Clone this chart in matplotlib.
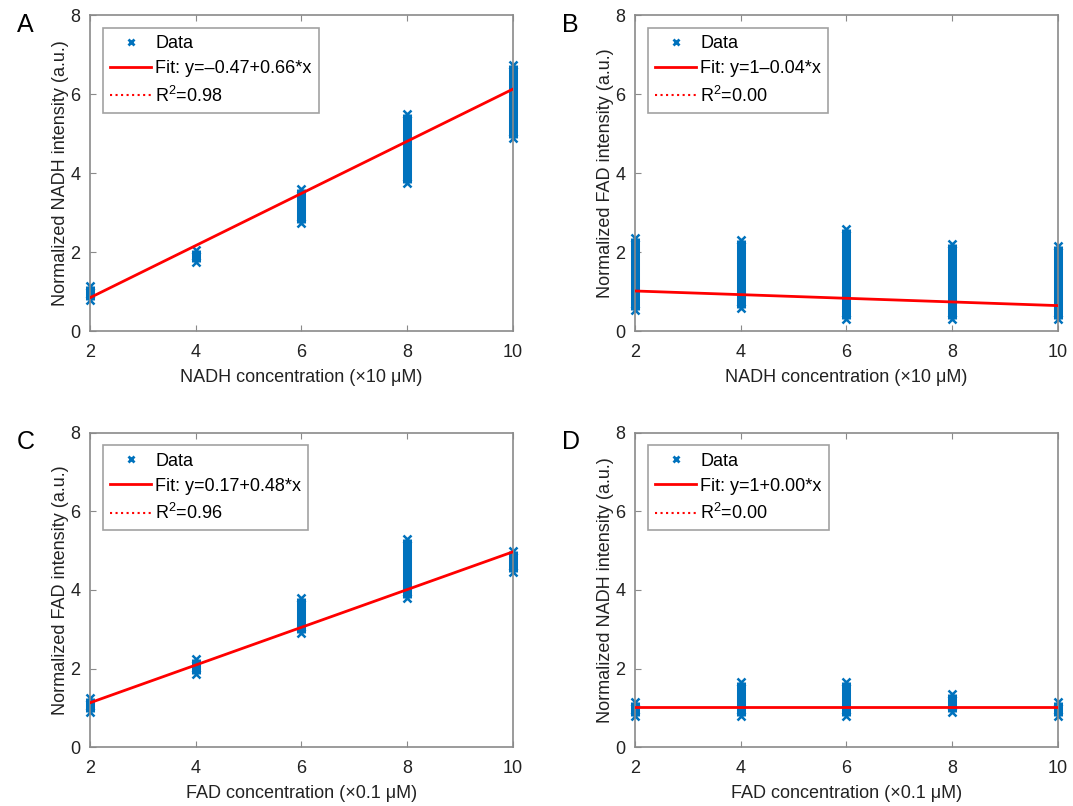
import matplotlib.pyplot as plt
from matplotlib.lines import Line2D

# concentrations on the x axis
conc = [2, 4, 6, 8, 10]

# vertical extent of each stack of data points (min, max)
a_lo = [0.80, 1.75, 2.75, 3.75, 4.90]
a_hi = [1.15, 2.05, 3.60, 5.50, 6.75]
b_lo = [0.55, 0.60, 0.30, 0.30, 0.30]
b_hi = [2.35, 2.30, 2.60, 2.20, 2.15]
c_lo = [0.90, 1.85, 2.90, 3.80, 4.45]
c_hi = [1.25, 2.25, 3.80, 5.30, 5.00]
d_lo = [0.80, 0.80, 0.80, 0.90, 0.80]
d_hi = [1.15, 1.65, 1.65, 1.35, 1.15]

# fitted line value at x=2 and x=10
a_fit = [0.85, 6.13]
b_fit = [1.02, 0.65]
c_fit = [1.13, 4.97]
d_fit = [1.03, 1.03]

fit_labels = ["Fit: y=\u20130.47+0.66*x", "Fit: y=1\u20130.04*x",
              "Fit: y=0.17+0.48*x", "Fit: y=1+0.00*x"]
r2_labels = ["R$^2$=0.98", "R$^2$=0.00", "R$^2$=0.96", "R$^2$=0.00"]
xlabels = ["NADH concentration (\u00d710 \u03bcM)", "NADH concentration (\u00d710 \u03bcM)",
           "FAD concentration (\u00d70.1 \u03bcM)", "FAD concentration (\u00d70.1 \u03bcM)"]
ylabels = ["Normalized NADH intensity (a.u.)", "Normalized FAD intensity (a.u.)",
           "Normalized FAD intensity (a.u.)", "Normalized NADH intensity (a.u.)"]
letters = ["A", "B", "C", "D"]

BLUE = "#0072BD"
RED = "#FF0000"
SPINE = "#8a8a8a"

plt.rcParams["font.family"] = ["Liberation Sans", "DejaVu Sans"]
plt.rcParams["mathtext.fontset"] = "custom"
plt.rcParams["mathtext.rm"] = "Liberation Sans"

fig = plt.figure(figsize=(10.73, 8.06), dpi=100)
rects = [
    (0.0839, 0.589, 0.394, 0.392),
    (0.5918, 0.589, 0.394, 0.392),
    (0.0839, 0.073, 0.394, 0.390),
    (0.5918, 0.073, 0.394, 0.390),
]
lows = [a_lo, b_lo, c_lo, d_lo]
highs = [a_hi, b_hi, c_hi, d_hi]
fits = [a_fit, b_fit, c_fit, d_fit]

for i, rect in enumerate(rects):
    ax = fig.add_axes(rect)
    ax.vlines(conc, lows[i], highs[i], color=BLUE, linewidth=6.5, zorder=2,
              clip_on=False)
    ax.plot(conc + conc, lows[i] + highs[i], "x", color=BLUE,
            markersize=5.5, markeredgewidth=1.8, linestyle="none", zorder=2,
            clip_on=False)
    ax.plot([conc[0], conc[-1]], fits[i], color=RED, linewidth=2.0, zorder=3)

    ax.set_xlim(2, 10)
    ax.set_ylim(0, 8)
    ax.set_xticks(conc)
    ax.set_yticks([0, 2, 4, 6, 8])
    ax.tick_params(direction="in", top=True, right=False, length=4,
                   color=SPINE, labelsize=13, pad=7, labelcolor="#222222")
    ax.tick_params(axis="x", pad=9)
    for s in ax.spines.values():
        s.set_color(SPINE)
        s.set_linewidth(1.2)
    ax.set_xlabel(xlabels[i], fontsize=13, labelpad=6, color="#222222")
    ax.set_ylabel(ylabels[i], fontsize=13, labelpad=1, color="#222222")

    handles = [
        Line2D([], [], marker="x", color=BLUE, linestyle="none",
               markersize=5, markeredgewidth=2),
        Line2D([], [], color=RED, linewidth=2),
        Line2D([], [], color=RED, linewidth=1.5, linestyle=":"),
    ]
    leg = ax.legend(handles, ["Data", fit_labels[i], r2_labels[i]],
                    loc="upper left", bbox_to_anchor=(0.03, 0.96),
                    fontsize=13, frameon=True, fancybox=False,
                    handlelength=2.3, handletextpad=0.2, labelspacing=0.45,
                    borderpad=0.4, borderaxespad=0.0)
    leg.get_frame().set_edgecolor(SPINE)
    leg.get_frame().set_linewidth(1.2)

    x0, y0, w, h = rect
    fig.text(x0 - 0.068, y0 + h - 0.012, letters[i], fontsize=18,
             ha="left", va="center")

fig.savefig("out.png", dpi=100)
